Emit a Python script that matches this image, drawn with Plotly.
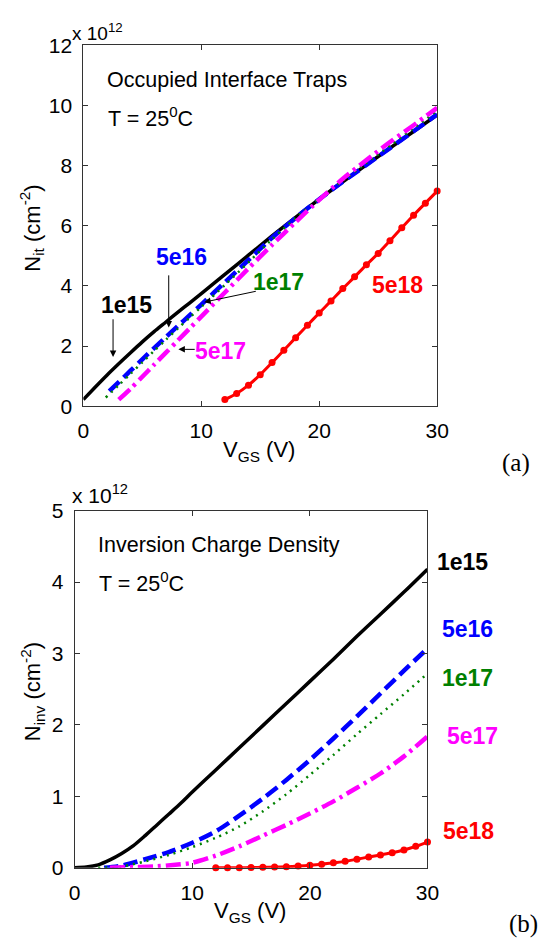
import plotly.graph_objects as go

# ---------------- data (values in units of 1e12 cm^-2) ----------------
# (a) occupied interface traps
X_A_1E15 = [0, 1, 2, 3, 4, 5, 6, 7, 8, 9, 10, 12, 14, 16, 18, 20, 22, 24, 26, 28, 30]
NIT_1E15 = [0.22, 0.63, 1.03, 1.41, 1.78, 2.14, 2.48, 2.80, 3.12, 3.43, 3.74, 4.38, 5.02, 5.66, 6.28, 6.88, 7.46, 8.02, 8.58, 9.13, 9.68]
X_A_5E16 = [2.2, 3, 4, 5, 6, 7, 8, 9, 10, 12, 14, 16, 18, 20, 22, 24, 26, 28, 30]
NIT_5E16 = [0.50, 0.80, 1.18, 1.56, 1.93, 2.30, 2.66, 3.02, 3.38, 4.12, 4.86, 5.60, 6.26, 6.88, 7.46, 8.02, 8.58, 9.14, 9.70]
X_A_1E17 = [1.9, 3, 4, 5, 6, 7, 8, 9, 10, 12, 14, 16, 18, 20, 22, 24, 26, 28, 30]
NIT_1E17 = [0.29, 0.70, 1.08, 1.46, 1.84, 2.21, 2.58, 2.94, 3.30, 4.03, 4.78, 5.55, 6.25, 6.90, 7.50, 8.08, 8.66, 9.24, 9.82]
X_A_5E17 = [3, 4, 5, 6, 7, 8, 9, 10, 12, 14, 16, 18, 20, 22, 24, 26, 28, 30]
NIT_5E17 = [0.22, 0.58, 0.98, 1.38, 1.78, 2.18, 2.58, 2.98, 3.78, 4.58, 5.36, 6.12, 6.86, 7.56, 8.18, 8.78, 9.34, 9.92]
X_A_5E18 = [12, 13, 14, 15, 16, 17, 18, 19, 20, 21, 22, 23, 24, 25, 26, 27, 28, 29, 30]
NIT_5E18 = [0.22, 0.42, 0.70, 1.05, 1.45, 1.86, 2.28, 2.69, 3.10, 3.50, 3.91, 4.30, 4.70, 5.08, 5.50, 5.93, 6.35, 6.75, 7.15]

# (b) inversion charge density
X_B_1E15 = [0, 1, 2, 3, 4, 5, 6, 7, 8, 9, 10, 12, 14, 16, 18, 20, 22, 24, 26, 28, 30]
NINV_1E15 = [0, 0.01, 0.04, 0.11, 0.20, 0.31, 0.45, 0.60, 0.75, 0.90, 1.06, 1.37, 1.68, 1.99, 2.30, 2.61, 2.92, 3.24, 3.55, 3.86, 4.18]
X_B_5E16 = [2.5, 4, 6, 8, 10, 12, 14, 16, 18, 20, 22, 24, 26, 28, 30]
NINV_5E16 = [0, 0.03, 0.12, 0.22, 0.35, 0.51, 0.73, 0.97, 1.23, 1.51, 1.81, 2.12, 2.44, 2.76, 3.07]
X_B_1E17 = [2, 4, 6, 8, 10, 12, 14, 16, 18, 20, 22, 24, 26, 28, 30]
NINV_1E17 = [0, 0.02, 0.09, 0.18, 0.29, 0.42, 0.58, 0.79, 1.03, 1.30, 1.58, 1.87, 2.15, 2.43, 2.72]
X_B_5E17 = [3, 5, 7, 9, 10, 12, 14, 16, 18, 20, 22, 24, 26, 28, 30]
NINV_5E17 = [0, 0.01, 0.02, 0.05, 0.07, 0.17, 0.30, 0.45, 0.60, 0.76, 0.93, 1.12, 1.32, 1.56, 1.84]
X_B_5E18 = [12, 13, 14, 15, 16, 17, 18, 19, 20, 21, 22, 23, 24, 25, 26, 27, 28, 29, 30]
NINV_5E18 = [0.0, 0.0, 0.0, 0.003, 0.006, 0.01, 0.016, 0.024, 0.035, 0.05, 0.07, 0.09, 0.12, 0.15, 0.18, 0.21, 0.25, 0.30, 0.36]

X_TICKS = [0, 10, 20, 30]
Y_TICKS_A = [0, 2, 4, 6, 8, 10, 12]
Y_TICKS_B = [0, 1, 2, 3, 4, 5]
LABELS = ["1e15", "5e16", "1e17", "5e17", "5e18"]

# ---------------- styling ----------------
W, H = 541, 951
FONT = "Liberation Sans, Arial, sans-serif"
SERIF = "Liberation Serif, Times New Roman, serif"
COLORS = {"1e15": "black", "5e16": "#0000ff", "1e17": "#008000", "5e17": "#ff00ff", "5e18": "#ff0000"}
STYLE = {
    "1e15": dict(width=3.5, dash="solid"),
    "5e16": dict(width=4.5, dash="14px,6px"),
    "1e17": dict(width=2.5, dash="2px,5px"),
    "5e17": dict(width=4.5, dash="15px,5px,3px,5px"),
    "5e18": dict(width=3, dash="solid"),
}


def px(x):
    return x / W


def py(y):
    return 1 - y / H


fig = go.Figure()

series_a = [(X_A_1E15, NIT_1E15), (X_A_5E16, NIT_5E16), (X_A_1E17, NIT_1E17), (X_A_5E17, NIT_5E17), (X_A_5E18, NIT_5E18)]
series_b = [(X_B_1E15, NINV_1E15), (X_B_5E16, NINV_5E16), (X_B_1E17, NINV_1E17), (X_B_5E17, NINV_5E17), (X_B_5E18, NINV_5E18)]

for axes, series in ((("x", "y"), series_a), (("x2", "y2"), series_b)):
    for (xs, ys), lab in zip(series, LABELS):
        mode = "lines+markers" if lab == "5e18" else "lines"
        fig.add_trace(go.Scatter(x=xs, y=ys, mode=mode, xaxis=axes[0], yaxis=axes[1],
                                 line=dict(color=COLORS[lab], **STYLE[lab], shape="spline", smoothing=0.8),
                                 marker=dict(size=7, color=COLORS[lab]),
                                 cliponaxis=False, showlegend=False))

axis_common = dict(showgrid=False, zeroline=False, showline=True, linecolor="#333", linewidth=1,
                   mirror="ticks", ticks="inside", ticklen=5, tickcolor="#333",
                   tickfont=dict(family=FONT, size=21, color="black"), ticklabelstandoff=6)

fig.update_layout(
    width=W, height=H, margin=dict(l=0, r=0, t=0, b=0),
    paper_bgcolor="white", plot_bgcolor="white",
    xaxis=dict(domain=[px(80), px(446)], anchor="y", range=[0, 30], tickvals=X_TICKS, **axis_common),
    yaxis=dict(domain=[py(404), py(34)], anchor="x", range=[0, 12], tickvals=Y_TICKS_A, **axis_common),
    xaxis2=dict(domain=[px(71), px(436)], anchor="y2", range=[0, 30], tickvals=X_TICKS, **axis_common),
    yaxis2=dict(domain=[py(877), py(511)], anchor="x2", range=[0, 5], tickvals=Y_TICKS_B, **axis_common),
)

ann = []


def ptext(text, x, y, size=20, color="black", bold=False, xanchor="center", angle=0, family=FONT):
    if bold:
        text = "<b>" + text + "</b>"
    ann.append(dict(text=text, xref="paper", yref="paper", x=px(x), y=py(y), xanchor=xanchor,
                    yanchor="middle", showarrow=False, textangle=angle,
                    font=dict(family=family, size=size, color=color)))


# panel (a) texts
ptext("x 10<sup>12</sup>", 66, 20, size=19, xanchor="left")
ptext("Occupied Interface Traps", 102, 70, size=21.5, xanchor="left")
ptext("T = 25<sup>0</sup>C", 103, 108, size=21.5, xanchor="left")
ptext("N<sub>it</sub> (cm<sup>-2</sup>)", 27, 222, size=22, angle=-90)
ptext("V<sub>GS</sub> (V)", 262, 450, size=22)
ptext("(a)", 511, 462, size=25, xanchor="left", family=SERIF)
# labels in panel (a)
A_LABEL_POS = {"5e16": (182, 251), "1e17": (282, 277), "1e15": (125, 300), "5e17": (222, 347), "5e18": (405, 280)}
for lab in LABELS:
    ptext(lab, *A_LABEL_POS[lab], size=23, color=COLORS[lab], bold=True)

# panel (b) texts
ptext("x 10<sup>12</sup>", 66, 494, size=21, xanchor="left")
ptext("Inversion Charge Density", 93, 546, size=21.5, xanchor="left")
ptext("T = 25<sup>0</sup>C", 94, 584, size=21.5, xanchor="left")
ptext("N<sub>inv</sub> (cm<sup>-2</sup>)", 27, 697, size=22, angle=-90)
ptext("V<sub>GS</sub> (V)", 252, 922, size=22)
ptext("(b)", 518, 935, size=25, xanchor="left", family=SERIF)
B_LABEL_POS = {"1e15": (472, 564), "5e16": (477, 632), "1e17": (477, 682), "5e17": (483, 742), "5e18": (478, 839)}
for lab in LABELS:
    ptext(lab, *B_LABEL_POS[lab], size=23, color=COLORS[lab], bold=True)

# arrows in panel (a): (tail x, tail y, head x, head y) in data units
ARROWS_A = [(2.52, 2.94, 2.52, 1.64), (7.24, 4.40, 7.24, 2.62), (14.75, 3.83, 10.25, 3.46), (9.57, 1.89, 8.06, 1.89)]
for tx, ty, hx, hy in ARROWS_A:
    ann.append(dict(text="", x=hx, y=hy, ax=tx, ay=ty, xref="x", yref="y", axref="x", ayref="y",
                    showarrow=True, arrowhead=2, arrowsize=1.3, arrowwidth=1, arrowcolor="black",
                    standoff=0, startstandoff=0))

fig.update_layout(annotations=ann)
fig.write_html("out.html")
